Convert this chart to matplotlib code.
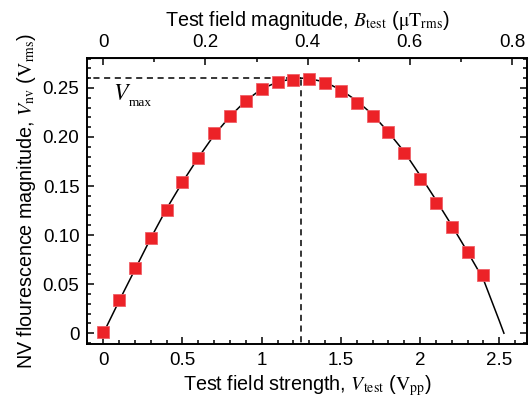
import matplotlib
matplotlib.use("Agg")
import matplotlib.pyplot as plt
from matplotlib.ticker import MultipleLocator

plt.rcParams['font.family'] = ['Liberation Sans', 'DejaVu Sans']
plt.rcParams['mathtext.fontset'] = 'stix'

# measured data
v_test = [0.0, 0.1, 0.2, 0.3, 0.4, 0.5, 0.6, 0.7, 0.8, 0.9, 1.0, 1.1, 1.2,
          1.3, 1.4, 1.5, 1.6, 1.7, 1.8, 1.9, 2.0, 2.1, 2.2, 2.3, 2.4]
v_nv = [0.001, 0.034, 0.066, 0.097, 0.126, 0.154, 0.179, 0.204, 0.221, 0.237,
        0.249, 0.256, 0.258, 0.259, 0.255, 0.247, 0.235, 0.221, 0.205, 0.184,
        0.157, 0.133, 0.108, 0.083, 0.059]

# fitted curve
fit_v = [0.0, 0.1, 0.2, 0.3, 0.4, 0.5, 0.6, 0.7, 0.8, 0.9, 1.0, 1.1, 1.2, 1.25,
         1.3, 1.4, 1.5, 1.6, 1.7, 1.8, 1.9, 2.0, 2.1, 2.2, 2.3, 2.4, 2.5, 2.53]
fit_y = [0.0, 0.033, 0.065, 0.097, 0.127, 0.154, 0.179, 0.202, 0.221, 0.237,
         0.249, 0.256, 0.2595, 0.260, 0.2595, 0.256, 0.248, 0.237, 0.223, 0.205,
         0.185, 0.161, 0.136, 0.110, 0.083, 0.055, 0.013, 0.0]

v_max_x = 1.25
v_max_y = 0.260
b_per_v = 0.31

xticks = [0, 0.5, 1, 1.5, 2, 2.5]
xticklabels = ["0", "0.5", "1", "1.5", "2", "2.5"]
yticks = [0, 0.05, 0.10, 0.15, 0.20, 0.25]
yticklabels = ["0", "0.05", "0.10", "0.15", "0.20", "0.25"]
bticks = [0, 0.2, 0.4, 0.6, 0.8]
bticklabels = ["0", "0.2", "0.4", "0.6", "0.8"]

TICK_FS = 13.5
LABEL_FS = 14.2

fig = plt.figure(figsize=(5.29, 4.05), dpi=100)
ax = fig.add_axes([0.1645, 0.1506, 0.8315, 0.7064])

ax.plot(fit_v, fit_y, color='black', lw=1.1, zorder=2)
ax.plot(v_test, v_nv, 's', color='#ec2227', markersize=8.3, mec='#f06068',
        mew=0.6, zorder=3)
ax.plot([-0.2, v_max_x], [v_max_y, v_max_y], '--', color='black', lw=1.1,
        dashes=(4, 3), zorder=1)
ax.plot([v_max_x, v_max_x], [-0.02, v_max_y], '--', color='black', lw=1.1,
        dashes=(4, 3), zorder=1)
ax.text(0.061, 0.238, r'$V$', fontsize=17)
ax.text(0.163, 0.2312, 'max', fontsize=9.5, family='Liberation Serif')

ax.set_xlim(-0.103, 2.675)
ax.set_ylim(-0.011, 0.2806)

ax.set_xticks(xticks)
ax.set_xticklabels(xticklabels)
ax.set_yticks(yticks)
ax.set_yticklabels(yticklabels)
ax.xaxis.set_minor_locator(MultipleLocator(0.1))
ax.yaxis.set_minor_locator(MultipleLocator(0.01))
ax.tick_params(which='both', direction='in', right=True, top=False,
               labelsize=TICK_FS, width=1.1, pad=5.5)
ax.tick_params(which='major', length=5)
ax.tick_params(which='minor', length=3)
for s in ax.spines.values():
    s.set_linewidth(1.4)

ax.set_xlabel(r'Test field strength, $V_{\mathrm{test}}$ ($\mathrm{V}_{\mathrm{pp}}$)',
              fontsize=LABEL_FS, labelpad=3)
ax.set_ylabel(r'NV flourescence magnitude, $V_{\mathrm{nv}}$ ($\mathrm{V}_{\mathrm{rms}}$)',
              fontsize=LABEL_FS, labelpad=3)

sec = ax.secondary_xaxis('top', functions=(lambda v: v * b_per_v,
                                           lambda b: b / b_per_v))
sec.set_xticks(bticks)
sec.set_xticklabels(bticklabels)
sec.xaxis.set_minor_locator(MultipleLocator(0.1))
sec.tick_params(which='both', direction='in', labelsize=TICK_FS, width=1.1, pad=5)
sec.tick_params(which='major', length=5)
sec.tick_params(which='minor', length=3)
sec.set_xlabel(r'Test field magnitude, $B_{\mathrm{test}}$ ($\mathrm{\mu T}_{\mathrm{rms}}$)',
               fontsize=LABEL_FS, labelpad=6)

fig.savefig('out.png', dpi=100)
